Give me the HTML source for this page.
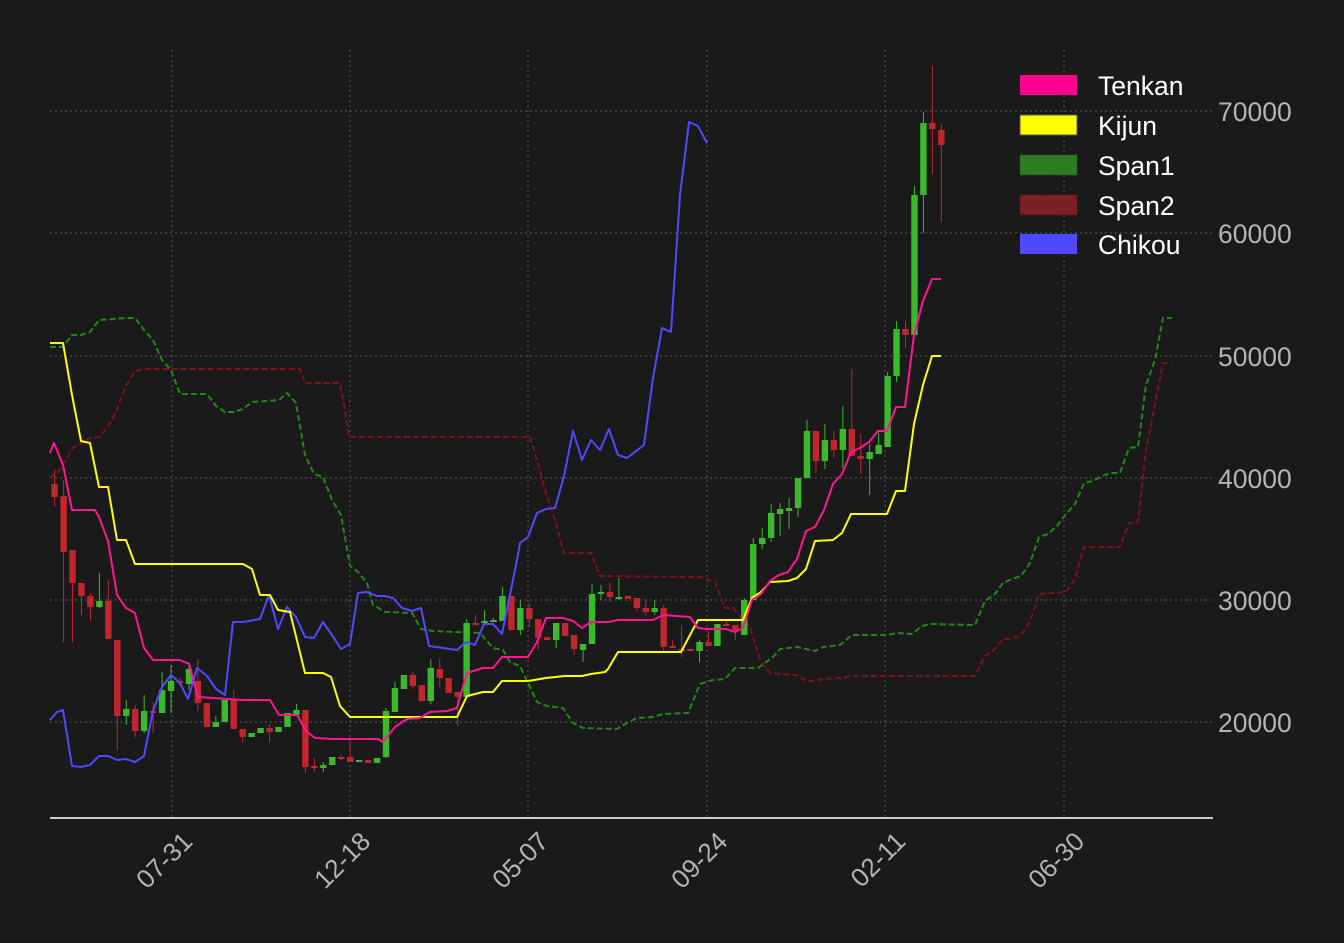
<!DOCTYPE html>
<html><head><meta charset="utf-8"><style>
html,body{margin:0;padding:0;background:#1a1a1a;}
svg{display:block;font-family:"Liberation Sans",sans-serif;}
</style></head><body>
<svg id="s" width="1344" height="943" viewBox="0 0 1344 943" xmlns="http://www.w3.org/2000/svg">
<rect width="1344" height="943" fill="#1a1a1a"/>
<g id="grid" stroke="#5a5a5a" stroke-width="1" stroke-dasharray="2,3"></g>
<g id="series"></g>
<line x1="50" y1="818" x2="1213" y2="818" stroke="#cccccc" stroke-width="2"/>
<g fill="#b4b4b4" font-size="26.5">
<text x="1218" y="121">70000</text>
<text x="1218" y="243">60000</text>
<text x="1218" y="366">50000</text>
<text x="1218" y="488">40000</text>
<text x="1218" y="610">30000</text>
<text x="1218" y="732">20000</text>
</g>
<g id="xl" fill="#b4b4b4" font-size="26" text-anchor="end"></g>
<g font-size="26.5" fill="#ffffff">
<rect x="1020" y="75" width="57" height="20" fill="#ff0090"/>
<rect x="1020" y="115" width="57" height="20" fill="#ffff00" stroke="#555" stroke-width="1"/>
<rect x="1020" y="155" width="57" height="20" fill="#2e7d23" stroke="#1c5c16" stroke-dasharray="3,2"/>
<rect x="1020" y="195" width="57" height="20" fill="#7b2126" stroke="#5a1418" stroke-dasharray="3,2"/>
<rect x="1020" y="234" width="57" height="20" fill="#4f4aff"/>
<text x="1098" y="95">Tenkan</text>
<text x="1098" y="135">Kijun</text>
<text x="1098" y="175">Span1</text>
<text x="1098" y="215">Span2</text>
<text x="1098" y="254">Chikou</text>
</g>
</svg>
<script>
const NS="http://www.w3.org/2000/svg";
function el(t,a,p){const e=document.createElementNS(NS,t);for(const k in a)e.setAttribute(k,a[k]);p.appendChild(e);return e;}
const grid=document.getElementById('grid'),ser=document.getElementById('series'),xl=document.getElementById('xl');
[111,233,356,478,600,722].forEach(y=>el('line',{x1:50,x2:1213,y1:y,y2:y},grid));
const xt=[[172,'07-31'],[350,'12-18'],[528,'05-07'],[707,'09-24'],[885,'02-11'],[1064,'06-30']];
xt.forEach(([x,l])=>{el('line',{x1:x,x2:x,y1:50,y2:818},grid);const tx=x+22,ty=843;const t=el('text',{x:tx,y:ty,transform:`rotate(-45 ${tx} ${ty})`},xl);t.textContent=l;});
function line(pts,c,w,d){const a={points:pts.map(p=>p.join(',')).join(' '),fill:'none',stroke:c,'stroke-width':w,'stroke-linejoin':'round'};if(d)a['stroke-dasharray']=d;el('polyline',a,ser);}
line([[50,478],[60,470],[73,448],[90,438],[100,437],[112,420],[117,409],[126,386],[135,371],[144,369],[300,369],[305,383],[340,383],[345,410],[349,437],[530,437],[537,460],[546,493],[555,520],[564,553],[591,553],[600,576],[700,577],[715,582],[725,608],[733,608],[750,627],[760,660],[770,673],[780,674],[797,675],[806,681],[815,681],[824,679],[842,678],[851,676],[975,676],[985,656],[994,650],[1003,639],[1012,639],[1021,635],[1030,622],[1039,594],[1066,592],[1075,579],[1084,547],[1120,547],[1129,523],[1138,522],[1146,450],[1155,404],[1163,363],[1172,363]],'#7a1418',2,'6,3');
line([[50,347],[63,347],[72,335],[81,335],[90,332],[99,320],[126,318],[135,318],[144,330],[153,340],[162,360],[171,370],[180,394],[207,394],[216,406],[225,412],[234,412],[243,409],[252,402],[279,400],[287,393],[296,403],[305,455],[314,474],[323,477],[332,500],[341,515],[350,566],[358,572],[367,583],[373,605],[385,612],[412,613],[421,629],[433,631],[480,633],[493,648],[503,650],[510,662],[520,666],[537,702],[547,706],[563,708],[573,723],[583,728],[617,729],[627,723],[637,718],[653,717],[663,714],[688,713],[700,684],[713,680],[725,679],[735,668],[758,668],[773,657],[780,649],[797,647],[815,651],[823,647],[840,645],[852,635],[887,635],[897,633],[912,634],[922,626],[930,624],[975,625],[985,601],[995,594],[1003,583],[1012,579],[1021,576],[1030,563],[1039,537],[1048,534],[1057,526],[1066,514],[1075,504],[1084,483],[1093,481],[1102,476],[1111,473],[1120,473],[1129,448],[1138,447],[1146,385],[1155,360],[1163,318],[1172,318]],'#1e8a12',2,'6,3');
const C=[[484,497,470,506,0],[496,552,480,642,0],[550,583,550,642,0],[583,596,583,615,0],[596,607,593,621,0],[601,607,573,608,1],[601,639,580,639,0],[640,716,640,750,0],[709,716,700,725,1],[709,731,705,737,0],[711,731,695,733,1],[711,713,703,733,0],[690,713,672,713,1],[681,691,665,713,1],[681,683,678,686,0],[669,684,662,690,1],[681,703,659,711,0],[703,727,703,727,0],[722,727,716,727,1],[700,722,700,722,1],[700,729,690,729,0],[729,737,729,742,0],[733,737,733,737,1],[728,733,728,733,1],[728,732,724,742,0],[727,732,727,732,1],[713,727,713,727,1],[710,715,704,715,1],[710,767,710,773,0],[766,768,758,772,0],[765,768,762,772,1],[757,765,757,765,1],[757,758,755,760,0],[757,762,742,762,0],[760,762,760,762,1],[760,763,760,763,0],[758,763,758,763,1],[711,757,708,758,1],[688,712,682,712,1],[675,689,675,689,1],[675,686,672,689,0],[685,701,685,701,0],[668,701,659,704,1],[669,678,659,687,0],[678,693,678,693,0],[692,697,692,726,0],[623,697,619,697,1],[623,624,615,624,0],[621,623,610,623,1],[620,622,618,622,1],[596,621,587,621,1],[596,630,596,630,0],[608,630,600,635,1],[608,619,603,627,0],[619,638,619,650,0],[637,640,637,640,0],[623,640,623,648,1],[623,636,623,636,0],[635,649,635,655,0],[644,650,644,662,1],[594,644,584,644,1],[592,594,585,600,1],[592,597,583,602,0],[597,598,578,600,1],[596,599,596,599,0],[598,608,598,611,0],[608,612,600,615,0],[608,612,600,615,1],[608,647,605,652,0],[646,648,640,648,0],[649,650,625,657,0],[649,651,649,651,0],[642,651,640,662,1],[642,646,632,646,0],[624,646,624,646,1],[624,625,621,625,0],[625,631,625,640,0],[600,635,598,635,1],[544,600,538,600,1],[538,544,528,549,1],[513,538,504,542,1],[509,514,503,536,1],[508,511,498,529,1],[478,508,478,517,1],[431,478,420,478,1],[431,461,431,473,0],[440,461,424,469,1],[440,450,431,458,0],[429,450,406,468,1],[429,456,369,456,0],[456,459,434,474,0],[452,459,444,495,1],[445,454,433,454,1],[376,447,372,447,1],[329,376,321,382,1],[329,335,321,348,0],[195,335,186,335,1],[123,195,112,233,1],[123,129,66,174,0],[130,145,124,222,0]];
C.forEach((c,i)=>{const x=54.6+8.957*i,col=c[4]?'#3bb82c':'#c0262e';
el('line',{x1:x,x2:x,y1:c[2],y2:c[3],stroke:col,'stroke-width':1},ser);
el('rect',{x:x-3.2,y:c[0],width:6.4,height:Math.max(2,c[1]-c[0]),fill:col},ser);});
line([[50,720],[57,712],[63,710],[72,766],[81,767],[90,765],[99,756],[108,756],[117,760],[126,759],[135,762],[144,756],[153,711],[162,687],[171,675],[180,683],[188,699],[197,668],[207,676],[216,689],[225,695],[233,622],[243,622],[260,619],[269,595],[278,629],[287,607],[296,617],[305,637],[314,638],[323,622],[332,635],[341,649],[350,644],[358,593],[367,592],[377,596],[385,596],[393,598],[402,608],[412,611],[421,608],[429,646],[457,650],[466,642],[475,645],[484,624],[493,624],[502,634],[517,560],[520,543],[528,537],[537,513],[546,509],[555,508],[564,476],[573,431],[582,460],[591,440],[600,450],[609,429],[618,455],[627,458],[644,445],[653,378],[662,328],[671,332],[680,195],[689,122],[698,126],[707,143]],'#4f4aff',2);
line([[50,343],[63,343],[72,395],[81,441],[90,443],[99,487],[108,487],[117,540],[126,540],[135,564],[243,564],[252,569],[260,595],[270,595],[278,610],[290,612],[305,673],[323,673],[331,677],[340,706],[350,717],[457,717],[467,696],[483,692],[493,692],[502,681],[528,681],[546,678],[565,676],[582,676],[591,674],[605,672],[608,669],[618,652],[681,652],[698,620],[743,620],[752,598],[761,592],[770,582],[788,581],[797,578],[806,569],[815,541],[833,540],[842,533],[851,514],[887,514],[896,491],[905,491],[914,424],[923,385],[932,356],[941,356]],'#ffff00',2);
line([[50,453],[54,443],[63,465],[72,510],[95,510],[99,517],[108,541],[117,595],[126,608],[135,613],[144,648],[153,660],[180,660],[189,664],[198,697],[243,700],[270,700],[279,715],[297,715],[306,731],[315,738],[333,739],[378,739],[383,742],[395,727],[407,719],[420,718],[430,712],[447,711],[457,708],[467,673],[483,668],[493,668],[502,657],[528,657],[537,642],[546,618],[563,618],[573,621],[582,628],[591,622],[608,622],[618,620],[653,620],[663,615],[690,617],[698,628],[708,629],[726,629],[735,632],[743,628],[752,600],[761,594],[770,581],[779,575],[788,572],[797,559],[806,531],[815,527],[824,510],[833,484],[842,474],[851,452],[860,448],[869,442],[878,431],[887,431],[896,407],[905,407],[914,335],[923,301],[932,279],[941,279]],'#ff1493',2);
</script>
</body></html>
